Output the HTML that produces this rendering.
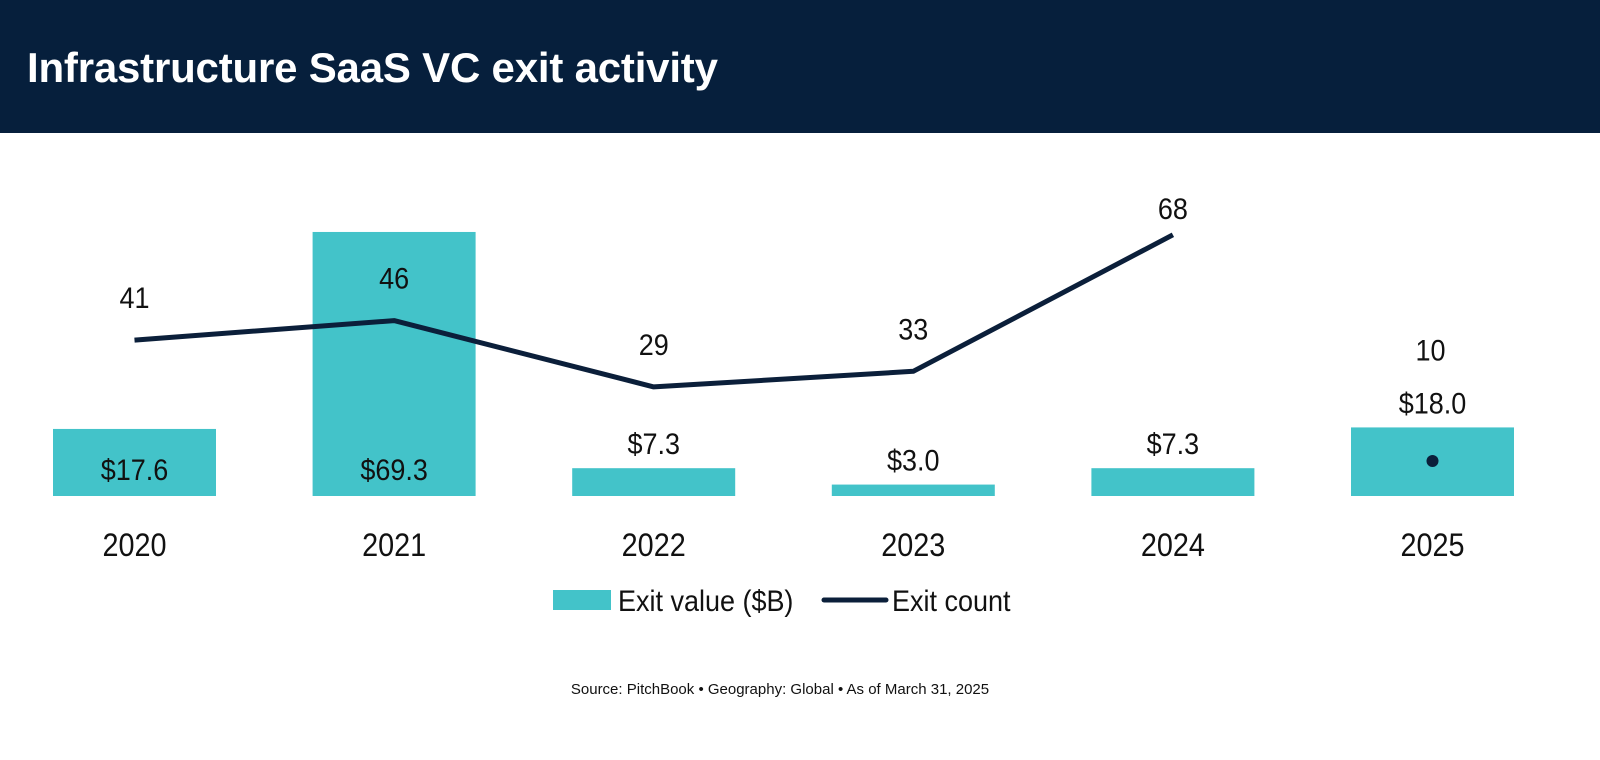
<!DOCTYPE html>
<html><head><meta charset="utf-8"><style>
body{margin:0;width:1600px;height:760px;background:#fff;overflow:hidden;font-family:"Liberation Sans",sans-serif}
#hdr{position:absolute;left:0;top:0;width:1600px;height:133px;background:#061f3c}
#title{position:absolute;left:27px;top:44px;color:#fff;font-weight:bold;font-size:42px;letter-spacing:-0.2px}
svg{position:absolute;left:0;top:0}
.n{font-family:"Liberation Sans",sans-serif;fill:#111}
#src{position:absolute;left:0;width:1560px;top:681px;text-align:center;font-size:15px;color:#111}
</style></head><body>
<div id="hdr"><div id="title">Infrastructure SaaS VC exit activity</div></div>
<svg id="c" width="1600" height="760"></svg>
<div id="src">Source: PitchBook • Geography: Global • As of March 31, 2025</div>
<script>
const years=["2020","2021","2022","2023","2024","2025"];
const exitValues=[17.6,69.3,7.3,3.0,7.3,18.0];
const exitCounts=[41,46,29,33,68,10];
const NS="http://www.w3.org/2000/svg";
const svg=document.getElementById('c');
function mk(t,a,p){const e=document.createElementNS(NS,t);for(const k in a)e.setAttribute(k,a[k]);(p||svg).appendChild(e);return e;}
function txt(x,y,s,size,anchor){const t=mk('text',{transform:'translate('+x+','+y+') scale(0.9,1)','text-anchor':anchor||'middle','font-size':size,class:'n'});t.textContent=s;return t;}
const base=496, vs=3.81;
const xC=i=>134.5+i*259.6;
const yV=v=>base-v*vs;
const yC=v=>500-v*3.9;
const bw=163;
years.forEach((y,i)=>{
  const r=mk('rect',{x:xC(i)-bw/2,y:yV(exitValues[i]),width:bw,height:base-yV(exitValues[i]),fill:'#43c3c9'});
  
  
  const h=base-yV(exitValues[i]);
  const last=i===years.length-1;
  const inside=h>60&&!last;
  const ly=inside?base-16:yV(exitValues[i])-14;
  const t=txt(xC(i),ly,'$'+exitValues[i].toFixed(1),30);
  
  
  const yl=txt(xC(i),556,y,32);
  
  
});
let d='';
for(let i=0;i<years.length-1;i++)d+=(i?'L':'M')+xC(i)+' '+yC(exitCounts[i]);
const ln=mk('path',{d:d,fill:'none',stroke:'#0b1f3a','stroke-width':5,'stroke-linejoin':'round'});


const li=years.length-1;
const dot=mk('circle',{cx:xC(li),cy:yC(exitCounts[li]),r:6,fill:'#0b1f3a'});


exitCounts.forEach((v,i)=>{
  let ly=Math.max(yC(v)-32,219);
  if(i===li)ly=yV(exitValues[i])-67;
  const t=txt(xC(i)+(i===li?-2:0),ly,String(v),30);
  
  
});
const sw=mk('rect',{x:553,y:590,width:58,height:20,fill:'#43c3c9'});


const lt1=txt(618,611,'Exit value ($B)',30,'start');


const ll=mk('line',{x1:824,y1:600,x2:886,y2:600,stroke:'#0b1f3a','stroke-width':5,'stroke-linecap':'round'});


const lt2=txt(892,611,'Exit count',30,'start');


</script>
</body></html>
